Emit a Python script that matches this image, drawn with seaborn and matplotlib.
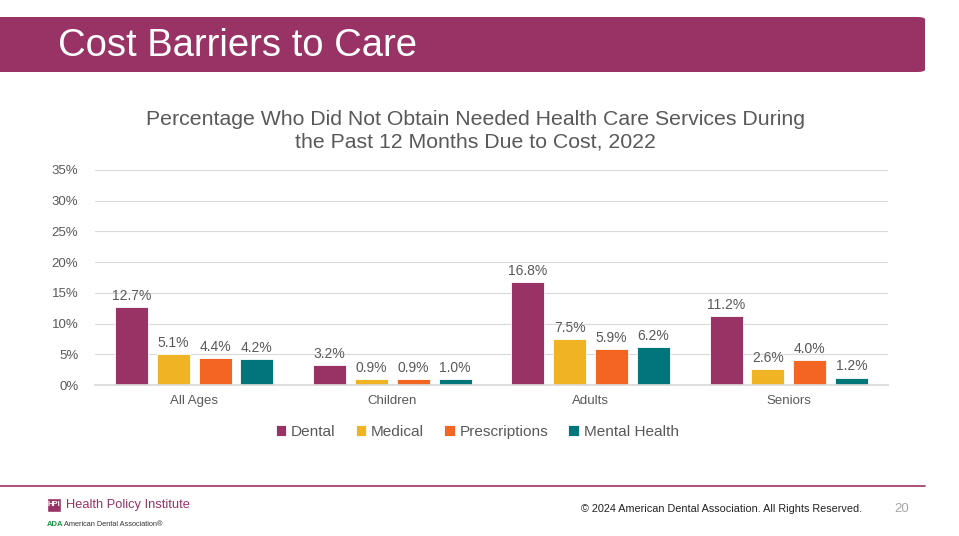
import numpy as np
import pandas as pd
import matplotlib
matplotlib.use("Agg")
import matplotlib.pyplot as plt
from matplotlib.patches import FancyBboxPatch, Rectangle
import seaborn as sns

# chart data
groups = ["All Ages", "Children", "Adults", "Seniors"]
services = ["Dental", "Medical", "Prescriptions", "Mental Health"]
dental = [12.7, 3.2, 16.8, 11.2]
medical = [5.1, 0.9, 7.5, 2.6]
prescriptions = [4.4, 0.9, 5.9, 4.0]
mental_health = [4.2, 1.0, 6.2, 1.2]
colors = ["#993366", "#F0B323", "#F26522", "#00767A"]

df = pd.DataFrame({
    "group": groups * 4,
    "service": np.repeat(services, 4),
    "pct": dental + medical + prescriptions + mental_health,
})

sns.set_theme(style="white")
plt.rcParams["font.family"] = ["Liberation Sans", "DejaVu Sans"]

fig = plt.figure(figsize=(9.59, 5.36), dpi=100)
W, H = 959, 536

# header band with small rounded top-right corner
band = FancyBboxPatch((-20 / W, 1 - 72 / H), 945 / W, 55 / H,
                      boxstyle="round,pad=0,rounding_size=0.008",
                      transform=fig.transFigure, facecolor="#993366",
                      edgecolor="none", mutation_aspect=H / W)
fig.patches.append(band)
fig.text(58 / W, 1 - 46 / H, "Cost Barriers to Care", color="white",
         fontsize=27.5, va="center", ha="left")

# main axes
ax = fig.add_axes([95 / W, 1 - 385 / H, 793 / W, 215 / H])
sns.barplot(data=df, x="group", y="pct", hue="service", palette=colors,
            width=0.845, gap=0.21, edgecolor="white", linewidth=0.6,
            saturation=1, ax=ax)

ax.set_ylim(0, 35)
ax.set_xlim(-0.5, 3.5)
ax.set_yticks(range(0, 36, 5))
ax.set_yticklabels([f"{v}%" for v in range(0, 36, 5)])
ax.yaxis.grid(True, color="#D9D9D9", linewidth=0.8)
ax.set_axisbelow(True)
ax.set_xlabel("")
ax.set_ylabel("")
for s in ["top", "right", "left"]:
    ax.spines[s].set_visible(False)
ax.spines["bottom"].set_color("#D9D9D9")
ax.tick_params(axis="both", colors="#595959", labelsize=9.5, length=0)
ax.tick_params(axis="y", pad=12)
ax.tick_params(axis="x", pad=7)

for cont in ax.containers:
    ax.bar_label(cont, labels=[f"{v:.1f}%" for v in cont.datavalues],
                 padding=3, color="#595959", fontsize=10)

fig.text(475 / W, 1 - 131 / H,
         "Percentage Who Did Not Obtain Needed Health Care Services During\nthe Past 12 Months Due to Cost, 2022",
         color="#595959", fontsize=15.3, ha="center", va="center",
         linespacing=1.25)

leg = ax.legend(loc="upper center", bbox_to_anchor=(0.482, -0.12), ncol=4,
                frameon=False, fontsize=11.1, handlelength=0.7, handleheight=0.7,
                handletextpad=0.3, columnspacing=1.3)
for t in leg.get_texts():
    t.set_color("#595959")

# footer
fig.add_artist(plt.Line2D([0, 925 / W], [1 - 486 / H, 1 - 486 / H],
                          transform=fig.transFigure, color="#993366", lw=1.2))
fig.patches.append(Rectangle((47 / W, 1 - 512 / H), 14 / W, 14 / H,
                             transform=fig.transFigure, facecolor="#993366"))
fig.text(54 / W, 1 - 505 / H, "HPI", color="white", fontsize=5.5,
         ha="center", va="center", fontweight="bold")
fig.text(66 / W, 1 - 505 / H, "Health Policy Institute", color="#993366",
         fontsize=9.3, ha="left", va="center")
fig.text(47 / W, 1 - 524 / H, "ADA", color="#1a9641", fontsize=5.5,
         ha="left", va="center", fontweight="bold")
fig.text(64 / W, 1 - 524 / H, "American Dental Association\u00ae", color="#333333",
         fontsize=5.3, ha="left", va="center")
fig.text(862 / W, 1 - 509 / H, "\u00a9 2024 American Dental Association. All Rights Reserved.",
         color="#222222", fontsize=7.8, ha="right", va="center")
fig.text(902 / W, 1 - 509 / H, "20", color="#A6A6A6", fontsize=9.5,
         ha="center", va="center")

fig.savefig("out.png", dpi=100)
